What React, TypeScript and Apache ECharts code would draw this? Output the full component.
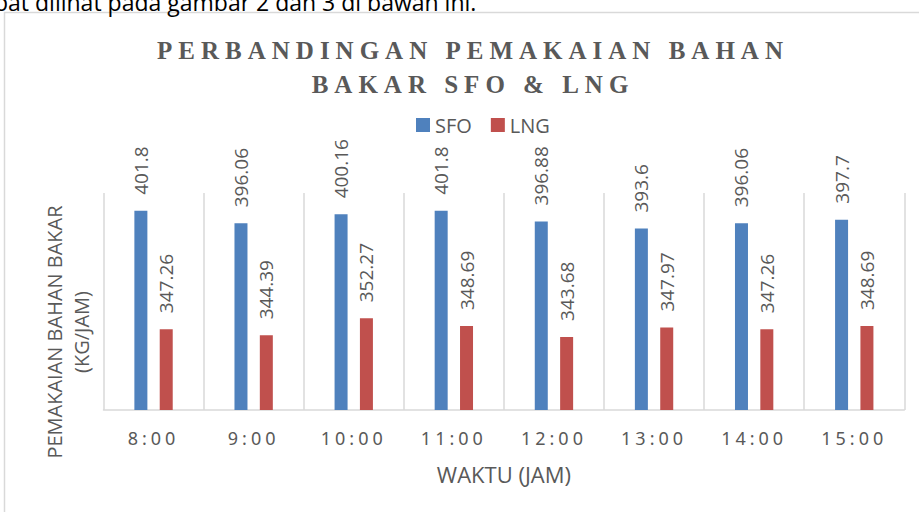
import React, { useEffect, useRef } from "react";
import * as echarts from "echarts";

const categories = ["8:00", "9:00", "10:00", "11:00", "12:00", "13:00", "14:00", "15:00"];
const sfoValues = [401.8, 396.06, 400.16, 401.8, 396.88, 393.6, 396.06, 397.7];
const lngValues = [347.26, 344.39, 352.27, 348.69, 343.68, 347.97, 347.26, 348.69];
const seriesNames = ["SFO", "LNG"];
const titleText = "PERBANDINGAN PEMAKAIAN BAHAN\nBAKAR SFO & LNG";
const xAxisTitle = "WAKTU (JAM)";
const yAxisTitle = "PEMAKAIAN BAHAN BAKAR\n(KG/JAM)";
const topText = "pat dilihat pada gambar 2 dan 3 di bawah ini.";

const GRAY = "#595959";
const LINE = "#d9d9d9";
const SANS = "Open Sans";

export default function App() {
  const ref = useRef<HTMLDivElement>(null);

  useEffect(() => {
    if (!ref.current) return;
    const chart = echarts.init(ref.current, null, { renderer: "svg" });
    const label = {
      show: true,
      position: "top",
      distance: 16,
      rotate: 90,
      align: "left",
      verticalAlign: "middle",
      fontSize: 19,
      fontFamily: SANS,
      color: GRAY,
    };
    chart.setOption({
      animation: false,
      backgroundColor: "#ffffff",
      title: {
        text: titleText,
        left: 473,
        top: 33,
        padding: 0,
        textAlign: "center",
        textStyle: {
          fontFamily: "Liberation Serif",
          fontWeight: "bold",
          fontSize: 25,
          lineHeight: 34,
          color: GRAY,
        },
      },
      legend: {
        data: seriesNames,
        left: 416,
        top: 115,
        padding: 0,
        icon: "rect",
        itemWidth: 14,
        itemHeight: 14,
        itemGap: 19,
        textStyle: { fontFamily: SANS, fontSize: 20, color: GRAY },
      },
      grid: { left: 103.5, right: 14.7, top: 193, bottom: 102, containLabel: false },
      xAxis: {
        type: "category",
        data: categories,
        name: xAxisTitle,
        nameLocation: "middle",
        nameGap: 53,
        nameTextStyle: { fontFamily: SANS, fontSize: 22, color: GRAY },
        axisLine: { show: true, lineStyle: { color: LINE, width: 1.5 } },
        axisTick: { show: false },
        axisLabel: {
          interval: 0,
          margin: 19,
          fontFamily: "Noto Sans",
          fontSize: 18,
          color: GRAY,
        },
        splitLine: { show: true, lineStyle: { color: LINE, width: 1.5 } },
      },
      yAxis: {
        type: "value",
        min: 310,
        max: 410,
        show: false,
        splitLine: { show: false },
      },
      graphic: [
        {
          type: "rect",
          shape: { x: 4.5, y: 12.5, width: 940, height: 540 },
          style: { fill: "none", stroke: LINE, lineWidth: 1.5 },
          silent: true,
        },
        {
          type: "text",
          x: -6,
          y: 2,
          style: {
            text: topText,
            fontFamily: SANS,
            fontSize: 23,
            fill: "#000000",
            align: "left",
            verticalAlign: "middle",
          },
        },
        {
          type: "text",
          x: 68,
          y: 332,
          rotation: Math.PI / 2,
          style: {
            text: yAxisTitle,
            fontFamily: SANS,
            fontSize: 20,
            lineHeight: 26.5,
            fill: GRAY,
            align: "center",
            verticalAlign: "middle",
          },
        },
      ],
      series: [
        {
          name: seriesNames[0],
          type: "bar",
          data: sfoValues,
          barWidth: 13,
          barGap: "95%",
          itemStyle: { color: "#4f81bd" },
          label,
        },
        {
          name: seriesNames[1],
          type: "bar",
          data: lngValues,
          barWidth: 13,
          itemStyle: { color: "#c0504d" },
          label,
        },
      ],
    });
    return () => chart.dispose();
  }, []);

  return (
    <>
      <style>{`
        #chartbox text[style*="Liberation Serif"] { letter-spacing: 6px; }
        #chartbox text[style*="Noto Sans"] { letter-spacing: 4px; }
      `}</style>
      <div
        id="chartbox"
        ref={ref}
        style={{ position: "fixed", left: 0, top: 0, width: 919, height: 512 }}
      />
    </>
  );
}
